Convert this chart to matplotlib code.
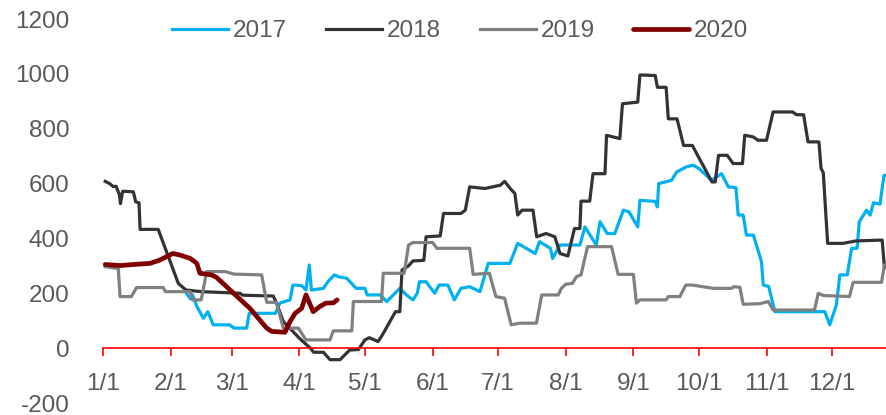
import matplotlib
matplotlib.use("Agg")
import matplotlib.pyplot as plt

plt.rcParams['font.family'] = ['Liberation Sans Narrow', 'Liberation Sans', 'DejaVu Sans']
plt.rcParams['axes.unicode_minus'] = False

# day of year (0 = 1/1) and value pairs
days_2017 = [37.6, 40, 41, 43, 46, 48, 50.5, 58, 60, 65.8, 67, 79, 81, 85.7, 87, 91, 93, 94.5,
             95.5, 101, 103, 106, 108, 111.6, 114, 116, 120, 121, 127, 130, 133, 136, 139, 142,
             144, 145, 148, 152, 154, 158, 161, 164, 168, 172.7, 176.5, 186.4, 190, 198, 200,
             205, 206, 209.4, 218.5, 220.8, 226, 227.7, 231, 234.5, 238.4, 241, 245, 246, 253,
             254, 254.6, 260.5, 262.8, 267.3, 270.4, 273, 278.8, 283.4, 286.5, 290, 291, 293.3,
             294.8, 298, 301.7, 302.5, 305, 307.8, 330.7, 333, 336, 337.6, 341, 343, 345.5,
             346.5, 348, 349.8, 351.5, 353, 356, 357.8, 360]
vals_2017 = [207, 180, 195, 152, 109, 133, 85, 85, 73, 73, 127, 127, 164, 176, 230, 228, 212, 303,
             212, 218, 242, 267, 260, 255, 235, 218, 218, 194, 194, 170, 194, 218, 194, 176,
             200, 242, 242, 200, 230, 230, 176, 218, 224, 206, 309, 309, 382, 345, 388,
             364, 327, 376, 376, 442, 376, 461, 418, 418, 503, 497, 442, 539, 535,
             515, 600, 612, 642, 661, 667, 655, 612, 636, 588, 585, 485, 485,
             412, 412, 315, 230, 225, 133, 133, 85, 158, 267, 267, 364, 364,
             461, 480, 503, 485, 530, 525, 630, 630]

days_2018 = [1, 3, 4.7, 6, 7.5, 8, 9, 13.9, 15, 16.5, 17, 25.3, 34.5, 38, 45, 62.8, 64, 78, 79.5,
             82.6, 90, 95, 96.5, 101, 104, 108.6, 113, 117, 120, 122, 126, 128, 134, 136, 137,
             140, 142, 147, 148, 154.5, 156, 164, 166, 168, 175, 182, 184, 187, 188.7, 190,
             192, 197, 198.7, 203, 207, 209.4, 213, 216, 218.5, 219, 223, 224.5, 230, 230.7,
             236.8, 238, 245, 246, 253, 254, 258, 259, 263, 266, 270, 279, 280.5, 282, 286,
             288.7, 293, 294, 298, 300, 304, 307, 316, 317.7, 321, 323, 328, 329, 330, 332,
             339, 345, 357, 358, 360]
vals_2018 = [608, 600, 589, 590, 560, 527, 572, 570, 533, 530, 433, 433, 236, 212, 206, 200, 193,
             190, 164, 97, 36, 0, -15, -15, -42, -42, -7, -5, 30, 38, 24, 48, 133, 133, 285,
             300, 318, 320, 406, 409, 491, 491, 503, 588, 582, 594, 608, 578, 564, 485,
             503, 503, 406, 418, 406, 345, 336, 436, 436, 536, 536, 636, 636, 776,
             764, 891, 897, 996, 994, 951, 951, 836, 836, 739, 739, 606, 606, 703, 703,
             673, 673, 776, 770, 758, 758, 861, 861, 851, 851, 752, 752, 655, 640, 382,
             382, 391, 394, 297, 290]

days_2019 = [1, 7, 7.8, 13, 15.4, 27.6, 28.5, 40, 41, 45, 47.5, 56, 60, 72.7, 75, 79.5, 82.6,
             89.5, 93, 104, 105.5, 114, 114.7, 127.6, 128.4, 138, 140, 142, 151, 153, 168,
             169.6, 177, 180, 184, 187, 191, 198.6, 201, 208.6, 210, 212, 215, 217, 219, 222,
             233, 236, 243, 244.4, 246, 258, 259, 264.3, 267, 270, 279.6, 288, 289, 291.8,
             293.3, 301, 304.8, 307, 326, 327.7, 330, 342, 343.7, 356.7, 358, 360]
vals_2019 = [297, 290, 188, 188, 221, 221, 206, 206, 176, 176, 279, 279, 270, 267, 167, 167, 73,
             73, 30, 30, 63, 63, 170, 170, 273, 273, 376, 385, 385, 364, 364,
             269, 273, 188, 182, 85, 91, 91, 194, 194, 218, 233, 236, 261, 267, 370,
             370, 269, 269, 164, 176, 176, 188, 188, 230, 230, 218, 218, 224, 222,
             160, 162, 170, 139, 139, 200, 192, 188, 240, 240, 303, 303]

days_2020 = [1, 7.8, 14, 21.5, 26, 32, 35, 40, 43, 44.4, 49.7, 52, 67.3, 75, 77.3, 83.4, 85.7,
             88, 91, 93, 96.3, 99.4, 102, 105.5, 107.3]
vals_2020 = [305, 301, 305, 309, 321, 345, 340, 327, 309, 273, 267, 258, 145, 73, 61, 58, 97,
             127, 145, 194, 133, 152, 164, 165, 176]

month_days = [0, 31, 59, 90, 120, 151, 181, 212, 243, 273, 304, 334]
month_labels = ['1/1', '2/1', '3/1', '4/1', '5/1', '6/1', '7/1', '8/1', '9/1', '10/1', '11/1', '12/1']
y_ticks = [-200, 0, 200, 400, 600, 800, 1000, 1200]

text_color = '#595959'
fs = 17.5

fig = plt.figure(figsize=(8.87, 4.15), dpi=100)
ax = fig.add_axes([103 / 887, 12 / 415, 1 - 103 / 887, 384 / 415])

ax.plot(days_2017, vals_2017, color='#00B0F0', lw=2.3, label='2017', solid_joinstyle='round')
ax.plot(days_2018, vals_2018, color='#333333', lw=2.3, label='2018', solid_joinstyle='round')
ax.plot(days_2019, vals_2019, color='#808080', lw=2.3, label='2019', solid_joinstyle='round')
ax.plot(days_2020, vals_2020, color='#800000', lw=3.4, label='2020', solid_joinstyle='round',
        solid_capstyle='round')

ax.set_xlim(0, 359.2)
ax.set_ylim(-200, 1200)

for side in ['top', 'right', 'left']:
    ax.spines[side].set_visible(False)
ax.spines['bottom'].set_position(('data', 0))
ax.spines['bottom'].set_color('#FF0000')
ax.spines['bottom'].set_linewidth(1.2)

ax.set_xticks(month_days)
ax.set_xticklabels(month_labels)
ax.set_yticks(y_ticks)
ax.tick_params(axis='x', colors='#FF0000', direction='out', length=6, width=1.2,
               pad=12, labelsize=fs, labelcolor=text_color)
ax.tick_params(axis='y', length=0, pad=24, labelsize=fs, labelcolor=text_color)

fig.legend(loc='center', bbox_to_anchor=(0.519, 0.925), ncol=4, frameon=False,
           fontsize=fs, handlelength=2.3, handletextpad=0.2, columnspacing=1.6,
           labelcolor=text_color)

fig.savefig('out.png', dpi=100)
